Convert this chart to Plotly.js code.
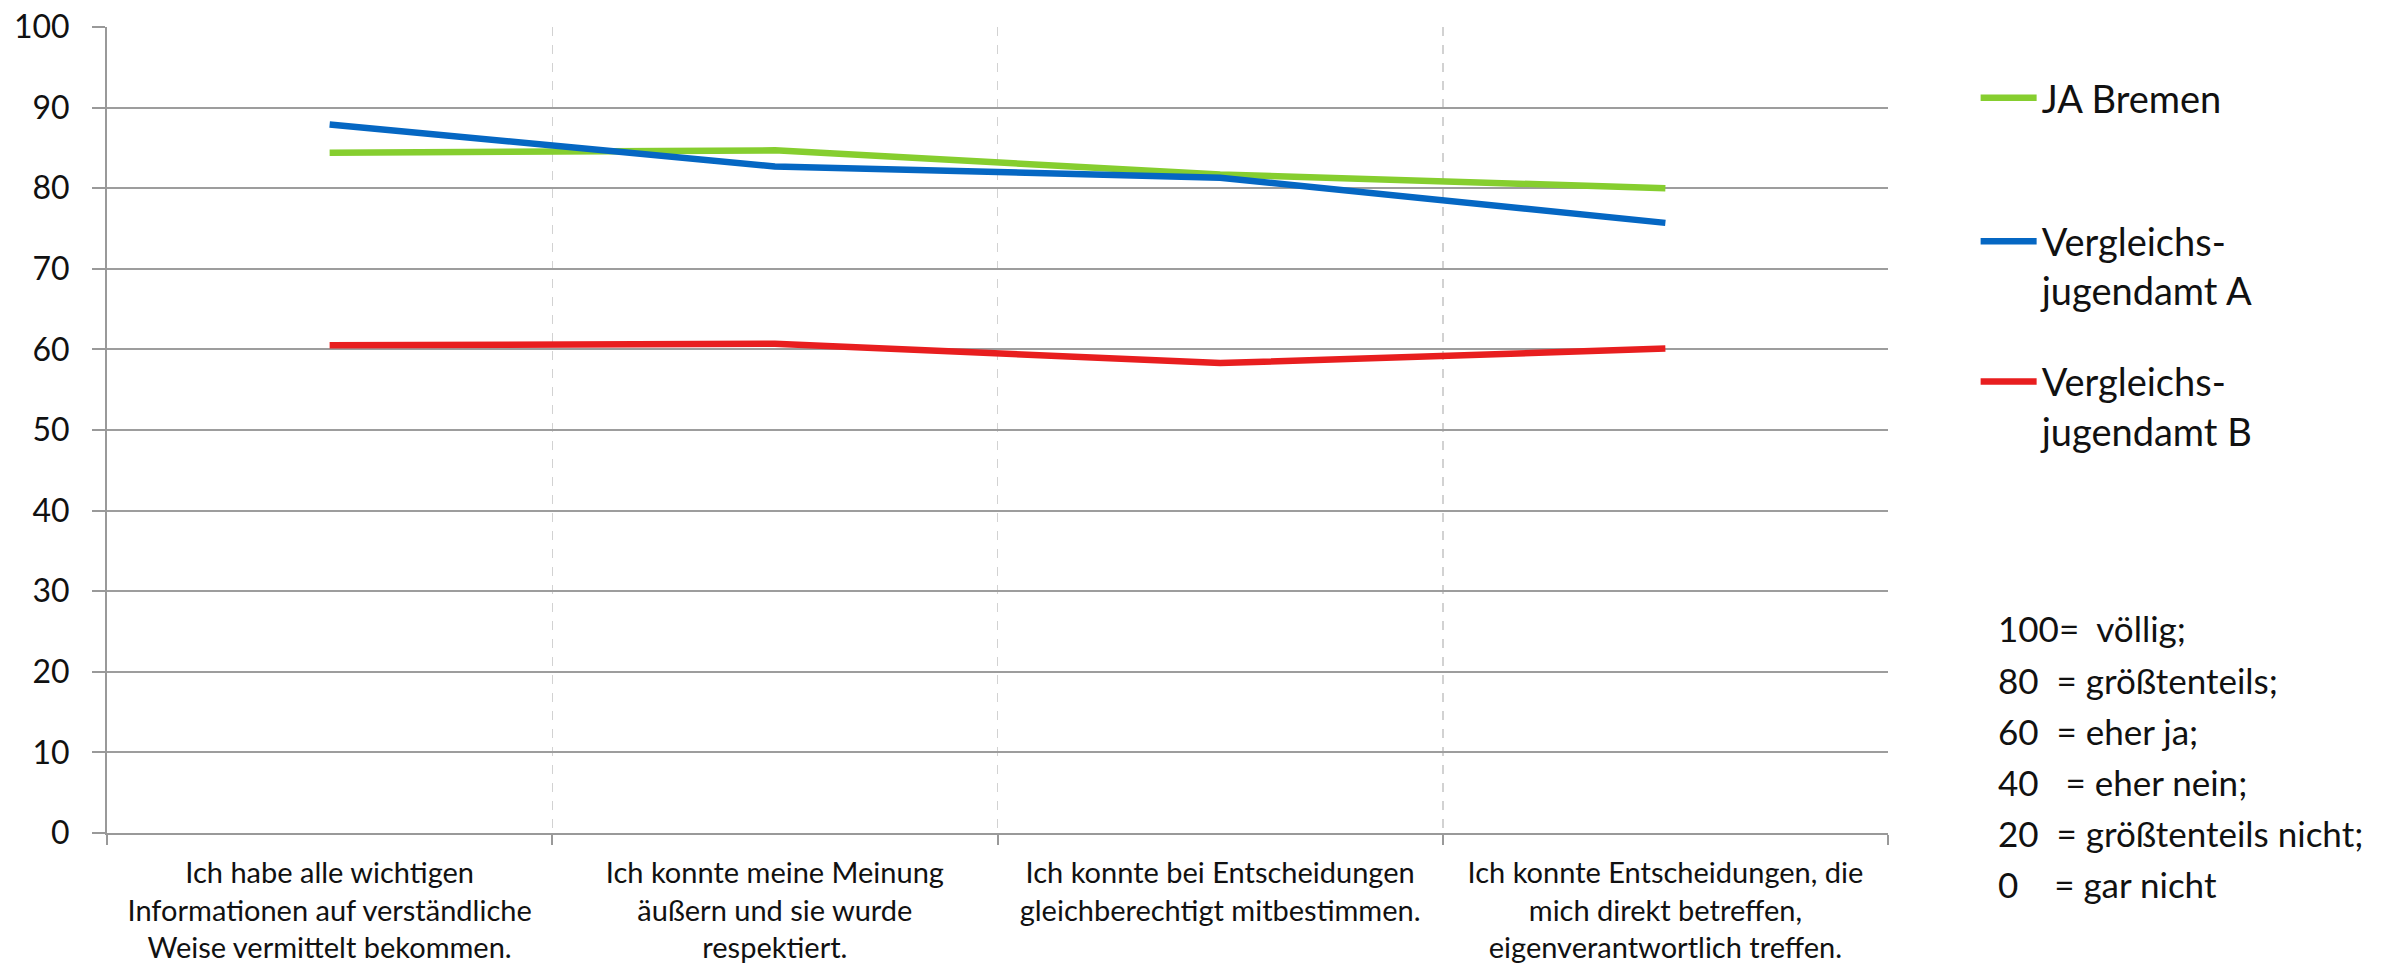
<!DOCTYPE html>
<html><head><meta charset="utf-8">
<script src="https://cdn.plot.ly/plotly-3.0.1.min.js"></script>
<style>html,body{margin:0;padding:0;background:#fff}</style>
</head><body><div id="chart" style="width:2387px;height:969px"></div>
<script>
// ---- data ----
const categories = [
  "Ich habe alle wichtigen<br>Informationen auf verständliche<br>Weise vermittelt bekommen.",
  "Ich konnte meine Meinung<br>äußern und sie wurde<br>respektiert.",
  "Ich konnte bei Entscheidungen<br>gleichberechtigt mitbestimmen.",
  "Ich konnte Entscheidungen, die<br>mich direkt betreffen,<br>eigenverantwortlich treffen."
];
const seriesNames = ["JA Bremen", "Vergleichs-<br>jugendamt A", "Vergleichs-<br>jugendamt B"];
const jaBremen    = [84.4, 84.7, 81.7, 80.0];
const vergleichA  = [87.9, 82.7, 81.3, 75.7];
const vergleichB  = [60.5, 60.7, 58.3, 60.1];
const yTickValues = [0, 10, 20, 30, 40, 50, 60, 70, 80, 90, 100];
const scaleNotes = [
  "100=\u00a0\u00a0völlig;",
  "80\u00a0\u00a0= größtenteils;",
  "60\u00a0\u00a0= eher ja;",
  "40\u00a0\u00a0\u00a0= eher nein;",
  "20\u00a0\u00a0= größtenteils nicht;",
  "0\u00a0\u00a0\u00a0\u00a0= gar nicht"
];

// ---- styles ----
const colors = ["#86CE2F", "#0567C3", "#E81E1F"];
const seriesValues = [jaBremen, vergleichA, vergleichB];
const legendIds = ["legend", "legend2", "legend3"];

const traces = seriesValues.map((vals, i) => ({
  type: "scatter", mode: "lines",
  x: categories, y: vals,
  name: seriesNames[i],
  legend: legendIds[i],
  line: {color: colors[i], width: 6.5}
}));

const legendBase = {
  xanchor: "left", yanchor: "top", x: 1.0492,
  font: {family: "Lato, sans-serif", size: 38, color: "#111"},
  valign: "top", itemwidth: 56, bgcolor: "rgba(0,0,0,0)"
};
const legendY = [0.951, 0.773, 0.599];

const noteY = [0.2543, 0.1898, 0.1266, 0.0633, 0.0, -0.0633];
const annotations = scaleNotes.map((t, i) => ({
  text: t, xref: "paper", yref: "paper", x: 1.0607, y: noteY[i],
  xanchor: "left", yanchor: "middle", showarrow: false,
  font: {family: "Lato, sans-serif", size: 35, color: "#111"}
}));

const layout = {
  width: 2387, height: 969,
  paper_bgcolor: "#fff", plot_bgcolor: "#fff",
  margin: {l: 107, r: 499, t: 27, b: 136},
  showlegend: true,
  legend: Object.assign({}, legendBase, {y: legendY[0]}),
  legend2: Object.assign({}, legendBase, {y: legendY[1]}),
  legend3: Object.assign({}, legendBase, {y: legendY[2]}),
  xaxis: {
    type: "category", tickson: "boundaries", tickangle: 0,
    range: [-0.5, categories.length - 0.5],
    ticks: "outside", ticklen: 10, tickwidth: 2, tickcolor: "#999",
    showgrid: true, gridcolor: "#d2d2d2", griddash: "dash", gridwidth: 1.5,
    showline: true, linecolor: "#999", linewidth: 2,
    tickfont: {family: "Lato, sans-serif", size: 29, color: "#111"},
    ticklabelstandoff: 13,
    fixedrange: true
  },
  yaxis: {
    range: [0, 100], tickvals: yTickValues,
    ticks: "outside", ticklen: 13, tickwidth: 2, tickcolor: "#999",
    showgrid: true, gridcolor: "#9d9d9d", gridwidth: 2,
    showline: true, linecolor: "#999", linewidth: 2, zeroline: false,
    tickfont: {family: "Lato, sans-serif", size: 32, color: "#111"},
    ticklabelstandoff: 16,
    fixedrange: true
  },
  annotations: annotations
};

Plotly.newPlot("chart", traces, layout, {displayModeBar: false, staticPlot: true});
</script>
</body></html>
